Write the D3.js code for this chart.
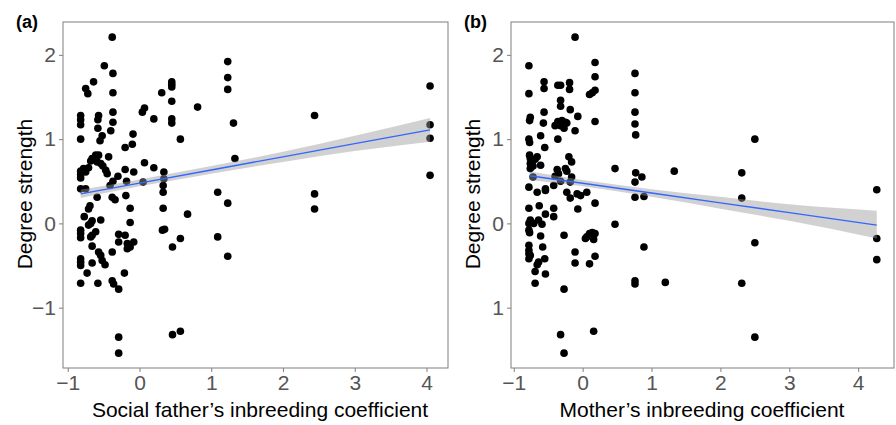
<!DOCTYPE html>
<html>
<head>
<meta charset="utf-8">
<script src="https://cdn.jsdelivr.net/npm/d3@7"></script>
<style>
  body { margin: 0; background: #fff; }
  svg { font-family: "Liberation Sans", Arial, sans-serif; }
</style>
</head>
<body>
<div id="chart"></div>
<script>
// tick values and labels
var xTicks = [-1, 0, 1, 2, 3, 4];
var xTickLabels = ["\u22121", "0", "1", "2", "3", "4"];
var yTicks = [-1, 0, 1, 2];
var yTickLabelsA = ["\u22121", "0", "1", "2"];
var yTickLabelsB = ["1", "0", "1", "2"]; // minus sign is missing in panel (b) of the original

// panel (a): social father's inbreeding coefficient vs degree strength
var fatherData = [
  [-0.82,1.28],[-0.82,1.23],[-0.82,1.17],[-0.82,1.00],[-0.82,0.62],[-0.82,0.58],[-0.82,0.54],[-0.82,0.41],
  [-0.82,-0.08],[-0.82,-0.12],[-0.82,-0.17],[-0.82,-0.42],[-0.82,-0.46],[-0.82,-0.50],[-0.82,-0.71],
  [-0.75,1.60],[-0.72,1.54],[-0.64,1.68],[-0.78,0.65],[-0.75,0.61],[-0.75,0.41],[-0.77,0.08],[-0.73,-0.59],[-0.71,0.66],
  [-0.68,0.74],[-0.66,0.77],[-0.69,0.21],[-0.71,0.17],[-0.66,0.03],[-0.68,0.00],[-0.71,-0.02],[-0.61,-0.10],
  [-0.66,-0.14],[-0.68,-0.16],[-0.66,-0.27],[-0.66,-0.47],
  [-0.61,0.81],[-0.57,0.81],[-0.59,0.73],[-0.54,0.71],[-0.51,0.68],[-0.47,0.63],[-0.45,0.59],[-0.59,0.31],
  [-0.54,0.04],[-0.57,-0.34],[-0.54,-0.38],[-0.52,-0.44],[-0.48,-0.49],[-0.58,-0.71],
  [-0.57,1.28],[-0.58,1.23],[-0.58,1.13],[-0.52,1.04],[-0.55,0.98],[-0.49,1.87],
  [-0.38,2.21],[-0.37,1.78],[-0.37,1.55],[-0.37,1.32],[-0.37,1.20],[-0.40,1.10],[-0.43,0.79],[-0.37,0.50],
  [-0.41,0.45],[-0.38,0.31],[-0.34,0.28],[-0.38,-0.34],[-0.38,-0.68],[-0.36,-0.72],
  [-0.30,0.56],[-0.20,0.64],[-0.18,0.50],[-0.08,0.61],[-0.19,0.33],[-0.29,-0.13],[-0.20,-0.14],[-0.29,-0.22],
  [-0.17,-0.24],[-0.08,-0.22],[-0.13,-0.28],[-0.17,-0.30],[-0.21,-0.59],[-0.29,-0.78],[-0.29,-1.35],[-0.29,-1.54],
  [-0.09,1.06],[-0.10,0.94],[-0.20,0.90],[-0.13,0.18],[-0.13,0.01],
  [0.07,1.37],[0.04,1.32],[0.20,1.24],[0.07,0.72],[0.20,0.66],[0.05,0.49],
  [0.31,1.55],[0.34,0.61],[0.34,0.53],[0.33,0.45],[0.33,0.37],[0.33,0.18],[0.32,-0.08],[0.35,-0.07],
  [0.45,1.68],[0.45,1.65],[0.45,1.62],[0.45,1.45],[0.45,1.24],[0.45,1.19],[0.46,-0.28],[0.46,-1.32],
  [0.57,1.00],[0.57,-0.18],[0.57,-1.28],[0.67,0.11],[0.81,1.38],
  [1.09,0.37],[1.09,-0.16],
  [1.23,1.92],[1.23,1.73],[1.23,1.59],[1.23,0.24],[1.23,-0.39],[1.31,1.19],[1.33,0.77],
  [2.44,1.28],[2.44,0.35],[2.44,0.17],
  [4.05,1.63],[4.05,1.17],[4.05,1.01],[4.05,0.57]
];
// fitted line and confidence band for panel (a)
var fitXA  = [-0.82, 0, 1, 2, 3, 4.05];
var fitYA  = [0.35, 0.478, 0.634, 0.79, 0.946, 1.11];
var fitLoA = [0.30, 0.44, 0.59, 0.73, 0.86, 0.97];
var fitHiA = [0.40, 0.52, 0.68, 0.85, 1.04, 1.25];

// panel (b): mother's inbreeding coefficient vs degree strength
var motherData = [
  [-0.78,1.87],[-0.78,1.54],[-0.76,1.26],[-0.77,1.22],[-0.78,1.00],[-0.77,0.96],[-0.77,0.81],[-0.76,0.77],
  [-0.76,0.71],[-0.76,0.65],[-0.78,0.43],[-0.78,0.18],[-0.76,0.04],[-0.78,0.00],[-0.78,-0.08],[-0.77,-0.11],
  [-0.78,-0.26],[-0.78,-0.32],[-0.78,-0.36],[-0.76,-0.38],[-0.78,-0.42],
  [-0.66,0.79],[-0.69,0.76],[-0.72,0.68],[-0.72,0.55],[-0.66,0.37],[-0.71,0.00],[-0.64,0.04],[-0.64,-0.46],
  [-0.66,-0.49],[-0.69,-0.57],[-0.69,-0.71],[-0.63,0.21],
  [-0.56,1.68],[-0.56,1.60],[-0.56,1.32],[-0.57,1.19],[-0.61,1.04],[-0.55,0.90],[-0.61,0.69],[-0.54,0.41],
  [-0.54,0.39],[-0.54,0.11],[-0.59,-0.01],[-0.61,-0.15],[-0.58,-0.28],[-0.55,-0.42],[-0.54,-0.60],
  [-0.36,1.64],[-0.32,1.64],[-0.32,1.46],[-0.32,1.39],[-0.36,1.21],[-0.30,1.22],[-0.25,1.20],[-0.32,1.16],
  [-0.27,1.13],[-0.40,1.16],[-0.36,1.00],[-0.37,0.64],[-0.35,0.59],[-0.40,0.56],[-0.42,0.45],[-0.32,0.50],
  [-0.42,0.18],[-0.42,0.08],[-0.27,-0.14],[-0.27,-0.78],[-0.32,-1.32],[-0.27,-1.54],
  [-0.19,1.67],[-0.19,1.59],[-0.18,1.35],[-0.23,1.19],[-0.20,0.79],[-0.16,0.73],[-0.25,0.65],[-0.23,0.62],
  [-0.16,0.55],[-0.18,0.49],[-0.23,0.37],[-0.18,0.30],[-0.11,2.21],[-0.11,1.10],[-0.07,1.27],[-0.08,0.35],
  [-0.07,0.17],[-0.03,0.33],[-0.11,-0.34],[-0.11,-0.47],
  [0.18,1.91],[0.18,1.74],[0.18,1.58],[0.14,1.55],[0.10,1.53],[0.18,1.21],[0.06,0.37],[0.18,0.24],
  [0.06,-0.16],[0.10,-0.12],[0.14,-0.11],[0.18,-0.12],[0.16,-0.19],[0.04,-0.18],[0.18,-0.39],[0.10,-0.48],[0.16,-1.28],
  [0.47,0.65],[0.47,-0.01],
  [0.76,1.78],[0.76,1.55],[0.76,1.32],[0.76,1.18],[0.77,1.05],[0.77,0.60],[0.76,0.49],[0.86,0.55],
  [0.76,0.31],[0.89,0.32],[0.89,-0.28],[0.76,-0.68],[0.76,-0.72],
  [1.20,-0.70],[1.33,0.62],
  [2.31,0.60],[2.31,0.30],[2.31,-0.71],[2.50,1.00],[2.50,-0.23],[2.50,-1.35],
  [4.27,0.40],[4.27,-0.18],[4.27,-0.43]
];
// fitted line and confidence band for panel (b)
var fitXB  = [-0.77, 0, 1, 2, 3, 4.27];
var fitYB  = [0.565, 0.476, 0.36, 0.244, 0.128, -0.02];
var fitLoB = [0.515, 0.44, 0.315, 0.175, 0.03, -0.18];
var fitHiB = [0.615, 0.515, 0.405, 0.315, 0.228, 0.15];

var width = 896, height = 425;

var svg = d3.select("#chart")
  .append("svg")
    .attr("width", width)
    .attr("height", height);

function drawPanel(p) {
  var x = d3.scaleLinear().domain(p.xDomain).range([p.left, p.right]);
  var y = d3.scaleLinear().domain([-1.716, 2.39]).range([368, 22]);

  var g = svg.append("g");

  // points first, the smooth band sits on top of them
  g.selectAll("circle")
    .data(p.points)
    .enter()
    .append("circle")
      .attr("cx", function(d) { return x(d[0]); })
      .attr("cy", function(d) { return y(d[1]); })
      .attr("r", 3.8)
      .attr("fill", "#000");

  var band = p.fitX.map(function(v, i) { return [v, p.fitLo[i], p.fitHi[i]]; });
  g.append("path")
    .datum(band)
    .attr("fill", "#999999")
    .attr("fill-opacity", 0.45)
    .attr("d", d3.area()
      .x(function(d) { return x(d[0]); })
      .y0(function(d) { return y(d[1]); })
      .y1(function(d) { return y(d[2]); })
      .curve(d3.curveMonotoneX));

  g.append("path")
    .datum(p.fitX.map(function(v, i) { return [v, p.fitY[i]]; }))
    .attr("fill", "none")
    .attr("stroke", "#3366FF")
    .attr("stroke-width", 1.4)
    .attr("d", d3.line()
      .x(function(d) { return x(d[0]); })
      .y(function(d) { return y(d[1]); }));

  // axes
  var xAxis = g.append("g")
    .attr("transform", "translate(0,368)")
    .call(d3.axisBottom(x).tickValues(xTicks).tickSize(4).tickPadding(3)
      .tickFormat(function(d, i) { return xTickLabels[i]; }));
  var yAxis = g.append("g")
    .attr("transform", "translate(" + p.left + ",0)")
    .call(d3.axisLeft(y).tickValues(yTicks).tickSize(4).tickPadding(3)
      .tickFormat(function(d, i) { return p.yLabels[i]; }));
  [xAxis, yAxis].forEach(function(a) {
    a.select(".domain").remove();
    a.selectAll("line").attr("stroke", "#7f7f7f");
    a.selectAll("text").attr("fill", "#555").style("font-size", "21px");
  });

  // panel border
  g.append("rect")
    .attr("x", p.left)
    .attr("y", 22)
    .attr("width", p.right - p.left)
    .attr("height", 346)
    .attr("fill", "none")
    .attr("stroke", "#7f7f7f")
    .attr("stroke-width", 1);

  // axis titles
  g.append("text")
    .attr("text-anchor", "middle")
    .attr("x", p.xTitleX)
    .attr("y", 417)
    .style("font-size", "21px")
    .text(p.xTitle);

  g.append("text")
    .attr("text-anchor", "middle")
    .attr("transform", "translate(" + (p.left - 31) + ",194) rotate(-90)")
    .style("font-size", "21px")
    .text("Degree strength");

  g.append("text")
    .attr("x", p.left - 47)
    .attr("y", 28)
    .style("font-size", "18px")
    .style("font-weight", "bold")
    .text(p.tag);
}

drawPanel({
  tag: "(a)", left: 63, right: 448, xDomain: [-1.066, 4.30],
  points: fatherData, fitX: fitXA, fitY: fitYA, fitLo: fitLoA, fitHi: fitHiA,
  yLabels: yTickLabelsA, xTitle: "Social father\u2019s inbreeding coefficient", xTitleX: 260
});

drawPanel({
  tag: "(b)", left: 511, right: 894, xDomain: [-1.04, 4.52],
  points: motherData, fitX: fitXB, fitY: fitYB, fitLo: fitLoB, fitHi: fitHiB,
  yLabels: yTickLabelsB, xTitle: "Mother\u2019s inbreeding coefficient", xTitleX: 702
});
</script>
</body>
</html>
